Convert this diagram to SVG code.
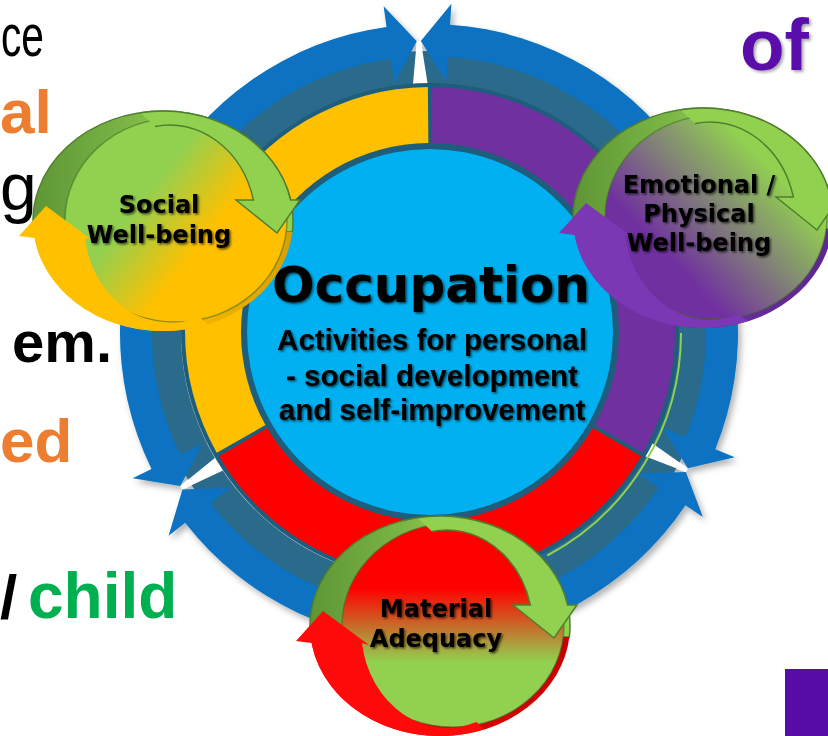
<svg xmlns="http://www.w3.org/2000/svg" width="828" height="736" viewBox="0 0 828 736">
<defs>
<style>
.bgt{font-family:"Liberation Sans",Arial,sans-serif;}
.b{font-weight:bold;}
.lbl{font-family:"DejaVu Sans",sans-serif;font-weight:bold;font-size:24px;fill:#000;text-anchor:middle;}
.sub{font-family:"Liberation Sans",Arial,sans-serif;font-weight:bold;font-size:29.5px;fill:#000;text-anchor:middle;}
.blue{fill:#0872C2;}
.grn{fill:#92D050;}
.gline{fill:none;stroke:#4F7F2E;stroke-width:1.5;}
.disc{stroke:#3F6B2A;stroke-opacity:0.55;stroke-width:1.5;}
</style>
<filter id="tsh" x="-10%" y="-30%" width="120%" height="160%"><feDropShadow dx="1.5" dy="1.5" stdDeviation="1.3" flood-color="#000" flood-opacity="0.65"/></filter>
<filter id="osh" x="-10%" y="-20%" width="130%" height="140%"><feDropShadow dx="2" dy="2" stdDeviation="1.5" flood-color="#000" flood-opacity="0.35"/></filter>
<filter id="ringsh" x="-5%" y="-5%" width="110%" height="112%"><feDropShadow dx="3" dy="4" stdDeviation="3" flood-color="#000" flood-opacity="0.3"/></filter>
<linearGradient id="gUp" x1="0" y1="0" x2="1" y2="0"><stop offset="0" stop-color="#5E9636"/><stop offset="0.35" stop-color="#7AB444"/><stop offset="0.6" stop-color="#92D050"/><stop offset="1" stop-color="#92D050"/></linearGradient>
<linearGradient id="gLowY" x1="0" y1="0" x2="1" y2="0"><stop offset="0" stop-color="#FFC000"/><stop offset="0.6" stop-color="#F5B800"/><stop offset="1" stop-color="#D9A000"/></linearGradient>
<linearGradient id="gLowP" x1="0" y1="0" x2="1" y2="0"><stop offset="0" stop-color="#7B36B2"/><stop offset="1" stop-color="#5E2690"/></linearGradient>
<linearGradient id="gLowR" x1="0" y1="0" x2="1" y2="0"><stop offset="0" stop-color="#FF0000"/><stop offset="1" stop-color="#C80000"/></linearGradient>
<linearGradient id="discS" x1="0.36" y1="0.38" x2="0.64" y2="0.58"><stop offset="0" stop-color="#92D050"/><stop offset="1" stop-color="#FFC000"/></linearGradient>
<linearGradient id="discE" x1="0.78" y1="0.3" x2="0.3" y2="0.72"><stop offset="0" stop-color="#92D050"/><stop offset="1" stop-color="#7030A0"/></linearGradient>
<linearGradient id="discM" x1="0" y1="0" x2="0" y2="1"><stop offset="0.32" stop-color="#FF0000"/><stop offset="0.68" stop-color="#92D050"/></linearGradient>
</defs>
<rect width="828" height="736" fill="#fff"/>

<g id="slide-text" class="bgt">
<text x="1" y="56" font-size="60" textLength="43" lengthAdjust="spacingAndGlyphs" fill="#000">ce</text>
<text x="0" y="133" font-size="62" class="b" fill="#ED7D31">al</text>
<text x="0" y="210" font-size="66" fill="#000">g</text>
<text x="112" y="362" font-size="58" class="b" fill="#000" text-anchor="end">em.</text>
<text x="0" y="462" font-size="62" class="b" fill="#ED7D31">ed</text>
<text x="0" y="618" font-size="62" class="b" fill="#000">/</text>
<text x="28" y="618" font-size="64" class="b" fill="#00B050">child</text>
<text x="740" y="70" font-size="73" class="b" fill="#5A0FA8" filter="url(#osh)">of</text>
<rect x="785" y="669" width="43" height="67" fill="#570DA6"/>
</g>

<g id="connectors" filter="url(#ringsh)">
<circle cx="429" cy="333" r="265" fill="none" stroke="#2A6B8B" stroke-width="34"/>
<polygon points="420.85,41.11 428.14,87 412.7,87.54 416.77,41.26" fill="#fff"/>
<polygon points="687.77,468.28 649.73,441.61 642.47,455.25 685.86,471.89" fill="#fff"/>
<polygon points="182.45,489.47 224.58,469.85 216.39,456.74 180.29,486.01" fill="#fff"/>
<path class="blue" d="M420.85,41.11 L451.45,3.77 L450.02,24.72 A309 309 0 0 1 715.3,449.25 L734.75,457.15 L687.77,468.28 L662.49,427.81 L685.65,437.21 A277 277 0 0 0 447.84,56.64 L446.14,81.58 Z"/>
<path class="blue" d="M685.86,471.89 L702.91,517.05 L685.48,505.34 A309 309 0 0 1 185.17,522.81 L168.6,535.71 L182.45,489.47 L230.15,487.8 L210.42,503.16 A277 277 0 0 0 658.92,487.49 L638.16,473.55 Z"/>
<path class="blue" d="M180.29,486.01 L132.65,478.18 L151.51,468.94 A309 309 0 0 1 386.53,26.93 L383.64,6.13 L416.77,41.26 L394.37,83.39 L390.93,58.63 A277 277 0 0 0 180.25,454.86 L202.7,443.86 Z"/>
</g>

<g id="node-occupation">
<circle cx="430" cy="332" r="249" fill="#1E5E7C"/>
<path fill="#FFC000" d="M216.76,452.64 A245 245 0 0 1 427.86,87.01 L428.35,143.01 A189 189 0 0 0 265.5,425.07 Z"/>
<path fill="#7030A0" d="M432.14,87.01 A245 245 0 0 1 643.24,452.64 L594.5,425.07 A189 189 0 0 0 431.65,143.01 Z"/>
<path fill="#FF0000" d="M641.1,456.35 A245 245 0 0 1 218.9,456.35 L267.15,427.93 A189 189 0 0 0 592.85,427.93 Z"/>
<circle cx="430" cy="332" r="183" fill="#00B0F0"/>
<path d="M681,333 A252 252 0 0 1 547.31,555.5" fill="none" stroke="#92D050" stroke-width="2"/>
<g filter="url(#tsh)">
<text x="431" y="302" font-family="DejaVu Sans, sans-serif" font-weight="bold" font-size="50" text-anchor="middle" fill="#000">Occupation</text>
<text class="sub" x="432" y="350">Activities for personal</text>
<text class="sub" x="432" y="386">- social development</text>
<text class="sub" x="432" y="420">and self-improvement</text>
</g>
</g>

<g id="node-social">
<path fill="url(#gUp)" stroke="#4F7F2E" stroke-width="1.5" d="M33.65,232 A130 110 0 1 1 292.35,232 Z"/>
<path fill="url(#gLowY)" d="M292.35,232 A130 110 0 0 1 33.65,232 Z"/>
<ellipse class="disc" cx="176" cy="220" rx="111" ry="102" fill="url(#discS)"/>
<path class="grn" d="M140.4,112.7 A130 110 0 0 1 290.6,200 L300,200 L277,233 L236,200 L253.4,200 A86 99 0 0 0 155.1,126.5 Z"/>
<path class="gline" d="M155.1,126.5 A86 99 0 0 1 253.4,200 L236,200 L277,233 L300,200 L290.6,200 A130 110 0 0 0 140.4,112.7"/>
<path fill="#FFC000" d="M207.46,324.37 A130 110 0 0 1 34.6,238 L19,236 L46,206 L92,240 L84.9,238 A86 99 0 0 0 199.41,317.03 Z"/>
<g filter="url(#tsh)">
<text class="lbl" x="159" y="213">Social</text>
<text class="lbl" x="159" y="243">Well-being</text>
</g>
</g>

<g id="node-emotional">
<g transform="translate(540,-3)">
<path fill="url(#gUp)" stroke="#4F7F2E" stroke-width="1.5" d="M33.65,232 A130 110 0 1 1 292.35,232 Z"/>
<path fill="url(#gLowP)" d="M292.35,232 A130 110 0 0 1 33.65,232 Z"/>
<ellipse class="disc" cx="176" cy="220" rx="111" ry="102" fill="url(#discE)"/>
<path class="grn" d="M140.4,112.7 A130 110 0 0 1 290.6,200 L300,200 L277,233 L236,200 L253.4,200 A86 99 0 0 0 155.1,126.5 Z"/>
<path class="gline" d="M155.1,126.5 A86 99 0 0 1 253.4,200 L236,200 L277,233 L300,200 L290.6,200 A130 110 0 0 0 140.4,112.7"/>
<path fill="#7C37B4" d="M207.46,324.37 A130 110 0 0 1 34.6,238 L19,236 L46,206 L92,240 L84.9,238 A86 99 0 0 0 199.41,317.03 Z"/>
</g>
<g filter="url(#tsh)">
<text class="lbl" x="699" y="193">Emotional /</text>
<text class="lbl" x="699" y="222">Physical</text>
<text class="lbl" x="699" y="251">Well-being</text>
</g>
</g>

<g id="node-material">
<g transform="translate(277,405)">
<path fill="url(#gUp)" stroke="#4F7F2E" stroke-width="1.5" d="M33.65,232 A130 110 0 1 1 292.35,232 Z"/>
<path fill="url(#gLowR)" d="M292.35,232 A130 110 0 0 1 33.65,232 Z"/>
<ellipse class="disc" cx="176" cy="220" rx="111" ry="102" fill="url(#discM)"/>
<path class="grn" d="M140.4,112.7 A130 110 0 0 1 290.6,200 L300,200 L277,233 L236,200 L253.4,200 A86 99 0 0 0 155.1,126.5 Z"/>
<path class="gline" d="M155.1,126.5 A86 99 0 0 1 253.4,200 L236,200 L277,233 L300,200 L290.6,200 A130 110 0 0 0 140.4,112.7"/>
<path fill="#FF0A0A" d="M207.46,324.37 A130 110 0 0 1 34.6,238 L19,236 L46,206 L92,240 L84.9,238 A86 99 0 0 0 199.41,317.03 Z"/>
</g>
<g filter="url(#tsh)">
<text class="lbl" x="436" y="617">Material</text>
<text class="lbl" x="436" y="647">Adequacy</text>
</g>
</g>
</svg>
